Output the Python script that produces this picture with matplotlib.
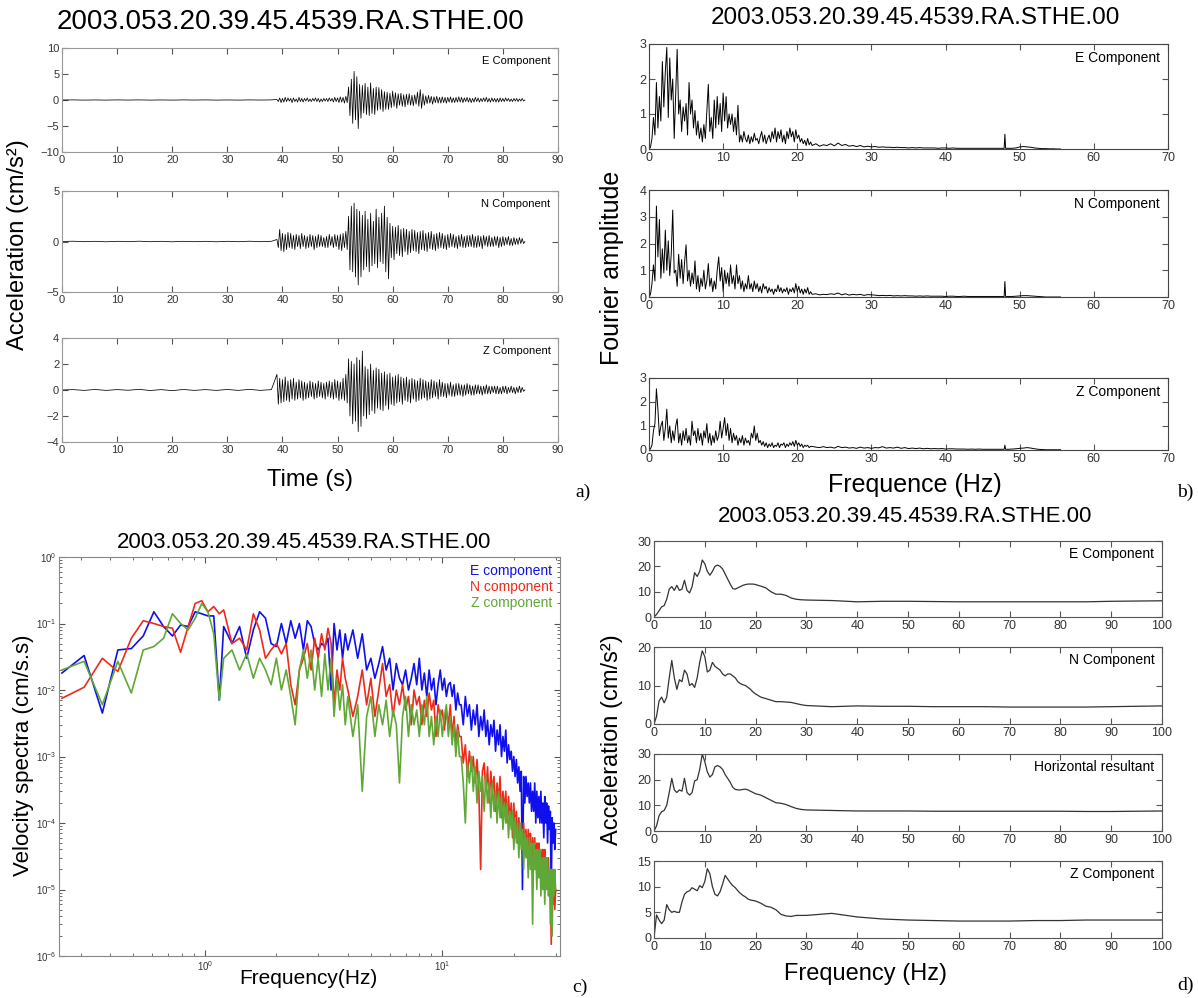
import numpy as np
import matplotlib
matplotlib.use('Agg')
import matplotlib.pyplot as plt

plt.rcParams['font.family'] = ['Liberation Sans', 'DejaVu Sans']

TITLE = '2003.053.20.39.45.4539.RA.STHE.00'

# ---------------- a) accelerograms (cm/s^2) ----------------
t_pre = np.arange(0, 39, 2)
e_pre = [0, 0.02, -0.02, 0.01, -0.02, 0.02, -0.01, 0.02, -0.02, 0.01,
         -0.02, 0.02, -0.01, 0.02, -0.02, 0.01, -0.02, 0.02, -0.01, 0.02]
n_pre = [0, 0.03, -0.02, 0.02, -0.03, 0.02, -0.02, 0.03, -0.02, 0.02,
         -0.03, 0.02, -0.02, 0.02, -0.03, 0.02, -0.02, 0.03, -0.02, 0.02]
z_pre = [0, 0.03, -0.03, 0.04, -0.03, 0.03, -0.02, 0.05, -0.04, 0.03,
         -0.05, 0.04, -0.03, 0.03, -0.03, 0.04, -0.03, 0.05, -0.03, 0.03]
# 39 s .. 84 s, every 0.25 s
e_evt = [0.1,-0.3,0.4,-0.5,0.3,-0.4,0.5,-0.3,0.4,-0.2,0.3,-0.5,0.4,-0.3,0.2,-0.4,0.5,-0.3,0.3,-0.4,
         0.3,-0.2,0.4,-0.3,0.2,-0.3,0.3,-0.2,0.4,-0.3,0.3,-0.4,0.2,-0.3,0.3,-0.2,0.3,-0.3,0.4,-0.2,
         0.3,-0.4,0.5,-0.3,0.4,-0.5,0.6,-0.4,0.5,-0.6,0.7,-0.5,2.5,-3.0,4.0,-4.5,5.5,-3.8,4.5,-5.5,
         3.0,-3.5,2.8,-2.5,3.2,-2.8,2.5,-3.0,3.3,-2.6,2.2,-2.8,2.5,-2.0,2.4,-1.8,2.0,-2.2,1.6,-1.8,
         1.5,-1.8,1.3,-1.5,1.7,-1.2,1.4,-1.6,1.2,-1.0,1.3,-1.2,1.0,-1.3,1.1,-0.9,1.2,-1.0,0.9,-1.1,
         1.0,-0.8,1.5,-1.2,2.0,-1.6,1.2,-1.0,0.8,-0.7,0.9,-0.6,0.7,-0.8,0.6,-0.5,0.7,-0.6,0.5,-0.6,
         0.6,-0.5,0.5,-0.6,0.5,-0.4,0.6,-0.5,0.4,-0.5,0.5,-0.4,0.6,-0.4,0.5,-0.5,0.4,-0.3,0.5,-0.4,
         0.4,-0.5,0.3,-0.4,0.5,-0.3,0.4,-0.4,0.3,-0.3,0.4,-0.3,0.5,-0.4,0.3,-0.4,0.4,-0.3,0.3,-0.4,
         0.3,-0.4,0.4,-0.3,0.3,-0.3,0.4,-0.2,0.3,-0.3,0.2,-0.3,0.3,-0.2,0.3,-0.3,0.2,-0.2,0.3,-0.2,
         0.0]
n_evt = [0.2,-0.6,1.2,-0.9,0.8,-1.0,0.7,-0.8,0.9,-0.6,0.8,-0.7,0.6,-0.8,0.7,-0.5,0.6,-0.7,0.8,-0.5,
         0.6,-0.7,0.5,-0.6,0.7,-0.5,0.6,-0.8,0.5,-0.6,0.7,-0.5,0.6,-0.5,0.4,-0.6,0.5,-0.6,0.7,-0.4,
         0.5,-0.6,0.7,-0.5,0.6,-0.8,0.7,-0.9,0.8,-0.6,1.0,-0.8,2.5,-2.8,3.5,-3.0,3.8,-3.5,3.2,-4.3,
         3.0,-3.5,2.6,-2.8,3.0,-2.5,2.2,-3.0,2.8,-2.4,2.0,-2.2,3.2,-2.6,2.4,-2.0,2.8,-2.2,3.5,-3.0,
         2.4,-3.7,1.8,-1.6,1.5,-1.8,1.4,-1.2,1.6,-1.4,1.2,-1.5,1.3,-1.0,1.2,-1.3,1.0,-1.1,1.2,-0.9,
         1.1,-1.0,0.9,-1.2,1.0,-0.8,1.1,-0.9,0.8,-1.0,0.9,-0.7,1.0,-0.8,0.7,-0.9,0.8,-0.7,0.9,-0.6,
         0.8,-0.7,0.6,-0.8,0.7,-0.6,0.8,-0.5,0.7,-0.6,0.5,-0.7,0.6,-0.5,0.7,-0.6,0.5,-0.6,0.6,-0.5,
         0.6,-0.5,0.7,-0.6,0.5,-0.6,0.6,-0.5,0.5,-0.7,0.6,-0.4,0.5,-0.5,0.6,-0.5,0.4,-0.5,0.5,-0.4,
         0.5,-0.6,0.4,-0.5,0.5,-0.4,0.4,-0.3,0.5,-0.4,0.3,-0.4,0.4,-0.3,0.3,-0.3,0.4,-0.2,0.3,-0.2,
         0.0]
z_evt = [1.2,-1.1,0.9,-1.0,0.8,-0.9,1.0,-0.8,0.7,-0.9,0.8,-0.7,0.9,-0.8,0.6,-0.7,0.8,-0.6,0.7,-0.8,
         0.6,-0.7,0.5,-0.6,0.7,-0.5,0.6,-0.7,0.5,-0.6,0.7,-0.5,0.6,-0.6,0.5,-0.7,0.6,-0.5,0.7,-0.6,
         0.6,-0.7,0.8,-0.6,0.7,-0.8,0.6,-0.7,0.9,-0.8,1.2,-1.0,2.4,-2.0,2.2,-2.6,2.0,-2.4,2.5,-3.2,
         2.3,-2.8,3.0,-2.0,1.8,-2.2,1.6,-1.9,2.0,-1.6,1.5,-1.8,1.7,-1.4,1.6,-1.5,1.3,-1.6,1.4,-1.2,
         1.2,-1.5,1.3,-1.1,1.0,-1.2,1.1,-1.0,1.2,-0.9,1.0,-1.1,0.9,-0.8,1.0,-0.9,0.8,-1.0,0.9,-0.7,
         0.8,-0.9,0.7,-0.8,0.9,-0.7,0.8,-0.6,0.7,-0.8,0.6,-0.7,0.8,-0.6,0.7,-0.5,0.6,-0.7,0.8,-0.5,
         0.6,-0.5,0.5,-0.6,0.5,-0.4,0.6,-0.5,0.4,-0.5,0.5,-0.4,0.5,-0.4,0.4,-0.5,0.4,-0.4,0.5,-0.3,
         0.4,-0.4,0.3,-0.4,0.4,-0.3,0.4,-0.3,0.3,-0.4,0.3,-0.3,0.4,-0.3,0.3,-0.3,0.3,-0.2,0.3,-0.3,
         0.3,-0.3,0.2,-0.3,0.3,-0.2,0.3,-0.3,0.2,-0.2,0.3,-0.2,0.2,-0.3,0.2,-0.2,0.3,-0.2,0.2,-0.1,
         0.0]
t_evt = 39 + 0.25 * np.arange(len(e_evt))

# ---------------- b) Fourier amplitude ----------------
fb_lo = np.arange(0, 21.9, 0.2)
fb_hi = np.r_[np.arange(22, 47.6, 0.5), 47.9, 48.0, 48.1, np.arange(48.5, 55.6, 0.5)]
eb_lo = [0.0,0.05,0.3,0.9,0.4,1.9,0.6,1.5,0.8,2.5, 1.2,2.2,2.9,0.9,2.6,1.4,2.0,0.3,1.6,2.85,
         1.0,1.4,0.5,1.2,0.8,1.3,0.4,1.9,1.0,1.4, 0.6,1.1,0.4,0.8,0.3,0.6,0.2,0.7,0.3,1.1,
         1.85,0.5,0.9,0.3,1.4,0.6,1.5,0.7,1.3,0.5, 1.6,0.8,1.5,0.6,1.0,0.7,1.0,0.5,0.9,0.4,
         1.25,0.2,0.4,0.2,0.5,0.3,0.2,0.4,0.15,0.35, 0.2,0.45,0.25,0.3,0.15,0.35,0.5,0.2,0.4,0.15,
         0.3,0.4,0.2,0.5,0.3,0.6,0.2,0.5,0.3,0.55, 0.2,0.4,0.15,0.5,0.3,0.6,0.35,0.5,0.2,0.55,
         0.3,0.4,0.2,0.3,0.15,0.25,0.1,0.3,0.12,0.2]
eb_hi = [0.1,0.15,0.08,0.12,0.1,0.15,0.09,0.17,0.1,0.13, 0.08,0.1,0.07,0.1,0.06,0.08,0.06,0.07,0.05,0.06,
         0.05,0.05,0.04,0.05,0.04,0.04,0.03,0.04,0.03,0.04, 0.03,0.03,0.03,0.03,0.02,0.03,0.03,0.02,0.03,0.02,
         0.02,0.02,0.02,0.02,0.02,0.02,0.02,0.02,0.02,0.02, 0.02,0.02,0.02,0.42,0.02,
         0.02,0.02,0.03,0.06,0.07,0.06,0.05,0.03,0.02,0.01,0.01,0.005,0.005,0.0,0.0]
nb_lo = [0.0,0.1,0.5,1.2,0.6,3.4,1.5,2.9,0.7,1.8, 0.9,2.5,1.0,2.1,0.8,1.6,3.25,0.9,1.0,0.4,
         1.6,0.7,1.4,0.5,1.3,1.95,0.6,1.0,0.4,0.9, 0.5,1.35,0.3,0.8,0.2,0.7,0.4,1.0,0.3,0.6,
         1.25,0.4,0.7,0.2,0.6,0.3,1.0,1.5,0.6,1.1, 0.2,1.0,0.5,0.9,0.4,1.2,0.5,0.8,0.3,1.2,
         0.5,0.8,0.3,0.6,0.2,0.5,0.3,0.8,0.3,0.5, 0.2,0.6,0.3,0.5,0.2,0.4,0.15,0.5,0.3,0.4,
         0.15,0.35,0.2,0.3,0.1,0.3,0.2,0.45,0.2,0.35, 0.15,0.3,0.2,0.35,0.1,0.3,0.2,0.35,0.15,0.5,
         0.2,0.4,0.15,0.3,0.1,0.3,0.15,0.35,0.1,0.2]
nb_hi = [0.1,0.12,0.08,0.1,0.09,0.12,0.1,0.15,0.08,0.12, 0.07,0.1,0.08,0.1,0.06,0.09,0.08,0.07,0.05,0.06,
         0.05,0.06,0.04,0.05,0.04,0.05,0.04,0.04,0.03,0.04, 0.03,0.04,0.03,0.03,0.03,0.03,0.02,0.03,0.03,0.02,
         0.02,0.03,0.02,0.02,0.02,0.02,0.02,0.02,0.02,0.02, 0.02,0.02,0.02,0.58,0.02,
         0.02,0.02,0.03,0.04,0.05,0.05,0.04,0.03,0.02,0.01,0.0,0.0,0.0,0.0,0.0]
zb_lo = [0.0,0.05,0.2,0.8,1.1,2.55,1.7,0.6,1.0,1.2, 0.4,0.9,1.7,0.5,1.0,0.3,0.8,0.4,1.0,1.3,
         0.3,0.7,0.2,0.8,0.4,0.9,0.3,0.6,0.2,1.2, 0.6,0.8,0.3,0.9,0.4,0.7,0.2,0.8,0.5,1.1,
         0.3,0.7,0.2,0.6,0.3,0.8,0.4,0.6,1.2,0.5, 0.9,1.35,0.6,1.1,0.4,0.9,0.3,0.7,0.4,0.6,
         0.2,0.5,0.3,0.6,0.2,0.5,0.3,0.4,0.2,0.7, 0.5,1.0,0.4,0.7,0.3,0.4,0.2,0.35,0.15,0.3,
         0.1,0.25,0.15,0.3,0.1,0.2,0.15,0.3,0.1,0.25, 0.2,0.3,0.1,0.25,0.15,0.3,0.2,0.35,0.15,0.4,
         0.2,0.3,0.15,0.25,0.1,0.2,0.15,0.2,0.1,0.15]
zb_hi = [0.15,0.12,0.1,0.14,0.1,0.12,0.08,0.15,0.1,0.12, 0.08,0.1,0.07,0.12,0.08,0.1,0.07,0.1,0.09,0.14,
         0.08,0.1,0.08,0.12,0.07,0.1,0.06,0.08,0.06,0.08, 0.05,0.07,0.05,0.06,0.05,0.06,0.04,0.05,0.05,0.04,
         0.04,0.04,0.03,0.04,0.03,0.04,0.03,0.03,0.03,0.03, 0.03,0.03,0.03,0.2,0.03,
         0.03,0.04,0.05,0.07,0.08,0.1,0.08,0.05,0.03,0.02,0.01,0.01,0.01,0.01,0.01]

# ---------------- c) velocity spectra (cm/s.s) ----------------
f_c = np.r_[np.arange(0.25, 1.18, 0.06), np.arange(1.2, 3.95, 0.1),
            np.arange(4.0, 11.9, 0.2), np.arange(12.0, 30.1, 0.25)]
vel_e = [0.018,0.033,0.0045,0.04,0.042,0.065,0.15,0.09,0.065,0.095,0.09,0.15,0.14,0.13,0.13,0.007,
         0.09,0.05,0.09,0.03,0.08,0.15,0.12,0.05,0.045,0.1,0.05,0.11,0.06,0.1,0.04,0.11,0.09,0.05,
         0.04,0.05,0.045,0.06,0.01,0.1,0.04,0.08,0.03,0.07,
         0.04,0.08,0.03,0.07,0.02,0.03,0.015,0.025,0.045,0.02, 0.03,0.01,0.025,0.015,0.012,0.02,0.01,0.015,0.025,0.012,
         0.03,0.01,0.018,0.008,0.02,0.01,0.015,0.006,0.012,0.02, 0.01,0.015,0.008,0.012,0.013,0.008,0.012,0.005,0.009,0.006,
         0.006,0.003,0.008,0.004,0.006,0.0025,0.005,0.003,0.006,0.002, 0.004,0.0025,0.005,0.002,0.0035,0.0015,0.003,0.002,0.0035,0.0012,
         0.0025,0.0015,0.003,0.001,0.002,0.0012,0.0025,0.0008,0.0015,0.0009, 0.0012,0.0006,0.001,0.0005,0.0009,0.0004,0.0007,0.0003,0.0006,0.00001,
         0.0005,0.0002,0.0005,0.00025,0.0004,0.0002,0.0004,0.00015,0.0003,0.00015, 0.0004,0.0001,0.0003,0.00012,0.00025,0.0001,0.0003,0.0001,0.0002,0.00006,
         0.00025,0.0001,0.0002,0.00005,0.00018,0.00008,0.00015,0.000008,0.00012,0.00005, 0.0001,0.00004,0.00008]
vel_n = [0.0075,0.011,0.03,0.019,0.06,0.11,0.1,0.09,0.085,0.037,0.09,0.2,0.22,0.15,0.18,0.14,
         0.16,0.05,0.06,0.04,0.14,0.08,0.03,0.04,0.05,0.035,0.05,0.012,0.006,0.02,0.03,0.05,0.02,0.06,
         0.03,0.07,0.04,0.085,0.05,0.006,0.02,0.01,0.03,0.015,
         0.01,0.004,0.008,0.02,0.006,0.015,0.004,0.01,0.025,0.008, 0.012,0.004,0.01,0.006,0.012,0.005,0.008,0.003,0.01,0.006,
         0.008,0.003,0.007,0.004,0.009,0.005,0.007,0.002,0.006,0.004, 0.005,0.0025,0.005,0.003,0.006,0.002,0.004,0.0015,0.003,0.002,
         0.002,0.0008,0.0015,0.0005,0.0012,0.0006,0.001,0.0004,0.0009,0.0003, 0.00002,0.0006,0.0008,0.0003,0.0007,0.0002,0.0006,0.0003,0.0005,0.00015,
         0.0004,0.0002,0.0005,0.00012,0.0003,0.00015,0.0003,0.0001,0.00025,0.0001, 0.0002,0.00006,0.0002,0.00008,0.00015,0.00005,0.00012,0.00006,0.0001,0.00004,
         0.0001,0.00004,0.00008,0.00003,0.00008,0.00004,0.00007,0.00002,0.00006,0.00003, 0.00006,0.00002,0.00005,0.00003,0.00005,0.000015,0.00004,0.00002,0.00004,0.00001,
         0.00004,0.000015,0.00003,0.00001,0.00003,0.000008,0.00002,0.0000015,0.000015,0.000006, 0.00001,0.000005,0.00001]
vel_z = [0.02,0.027,0.006,0.027,0.009,0.04,0.045,0.06,0.14,0.1,0.08,0.12,0.2,0.15,0.07,0.007,
         0.03,0.04,0.02,0.035,0.015,0.03,0.02,0.012,0.03,0.01,0.02,0.008,0.003,0.02,0.04,0.015,0.04,0.01,
         0.03,0.008,0.035,0.01,0.03,0.004,0.015,0.005,0.012,0.003,
         0.008,0.002,0.006,0.0003,0.004,0.008,0.002,0.006,0.003,0.007, 0.002,0.005,0.003,0.0004,0.004,0.008,0.002,0.006,0.003,0.005,
         0.002,0.006,0.003,0.008,0.002,0.004,0.0015,0.004,0.002,0.005, 0.002,0.004,0.006,0.002,0.004,0.0015,0.003,0.001,0.0025,0.001,
         0.001,0.0004,0.0001,0.0008,0.0004,0.001,0.0003,0.0007,0.0002,0.0006, 0.0003,0.0005,0.00015,0.0005,0.0002,0.0004,0.00012,0.0004,0.00015,0.0003,
         0.0001,0.0003,0.00012,0.00025,0.00008,0.0002,0.0001,0.0002,0.00006,0.00015, 0.00008,0.00015,0.00004,0.00012,0.00005,0.0001,0.00003,0.0001,0.00004,0.00008,
         0.00002,0.00007,0.00003,0.00006,0.000015,0.00006,0.00002,0.00005,0.000003,0.00005, 0.00002,0.00004,0.00001,0.00004,0.000015,0.00004,0.000008,0.00003,0.00001,0.00003,
         0.000006,0.00003,0.00001,0.00003,0.000008,0.00002,0.000003,0.00002,0.000002,0.00002, 0.000008,0.00002,0.00001]

# ---------------- d) response spectra (cm/s^2) ----------------
f_d = np.r_[np.arange(0, 20.1, 0.5), np.arange(21, 31, 1), np.arange(35, 101, 5)]
acc_e = [0,1,2.5,4,4.5,7,11,12,10.5,12.5, 10.5,11,14.5,10.5,9.5,12,17.5,16,18,22.5,
         21,18,16.5,18,20,20.5,20,19,17,15, 13,11.2,11,11.5,12,12.5,12.8,13,13,13, 12.8,
         12.2,11.5,10,9,9,8.5,7.5,7,6.8,6.7,
         6.5,6,6.2,6.2,6.1,6,6,6,6,6,6,6.2,6.3,6.4]
acc_n = [0,2,6,7,5.5,7,12,16.5,12,9, 11.5,11,14,13,10,10.5,9.5,12,16,19,
         17.5,13.5,14,16,15,14.5,14,13,12.5,13, 13,12.5,12,11,10.5,10.2,10,9.5,9,8.3, 7.8,
         7,6.6,6.2,5.8,5.8,5.7,5.6,5.3,5.0,4.8,
         4.5,4.7,4.6,4.6,4.5,4.5,4.5,4.4,4.4,4.4,4.4,4.5,4.6,4.7]
acc_h = [0,2,6,7.5,8,10,15,20.5,16,15, 16,15.5,20.5,15,14,15,19.5,20,24,30,
         27,23,21,22,25,25.5,25,24,22,20.5, 19,17,16.2,16,16,16.2,16.3,16,15.5,15, 14.5,
         14,13,12,11,10.8,10.3,9.5,8.8,8.4,8.2,
         8.0,7.8,7.8,7.8,7.7,7.7,7.7,7.7,7.7,7.7,7.6,7.6,7.7,7.8]
acc_z = [0,4.5,3.5,2.8,3.5,6.5,5.5,5,5.2,5, 5,7,8.5,9,9.2,9.8,9.5,9.2,10.2,9.8,
         11,13.5,12.5,10,8.5,8.2,9,10.5,12.2,11.5, 10.8,10.2,9.8,9.2,8.7,8.3,8,7.6,7.4,7.3, 7.2,
         6.8,6.2,6.0,5.5,4.6,4.3,4.2,4.4,4.4,4.4,
         4.8,4.1,3.7,3.5,3.4,3.3,3.3,3.3,3.4,3.4,3.5,3.5,3.5,3.5]

W, H = 1198, 998
fig = plt.figure(figsize=(W / 100, H / 100), dpi=100)


def box(l, t, r, b):
    return fig.add_axes([l / W, 1 - b / H, (r - l) / W, (b - t) / H])


def matlab_look(ax, fs, spine='#666666'):
    ax.tick_params(which='both', direction='in', top=True, right=True,
                   labelsize=fs, labelcolor='#333333', color='#555555', pad=2)
    ax.tick_params(which='major', length=4)
    ax.tick_params(which='minor', length=2)
    for s in ax.spines.values():
        s.set_color(spine)
        s.set_linewidth(0.8)


def ftext(x, y, s, **kw):
    fig.text(x / W, 1 - y / H, s, ha='center', va='center', **kw)


def corner_label(ax, s, top, bot, dy, fs):
    # label placed dy pixels below the top edge, right aligned
    ax.text(0.985, 1 - dy / (bot - top), s, transform=ax.transAxes,
            ha='right', va='center', fontsize=fs)


# ---- panel a
a_traces = [(e_pre, e_evt, 10, 5, 'E Component', (48, 152)),
            (n_pre, n_evt, 5, 5, 'N Component', (191, 292)),
            (z_pre, z_evt, 4, 2, 'Z Component', (338, 442))]
for pre, evt, lim, step, lab, (top, bot) in a_traces:
    ax = box(62, top, 558, bot)
    ax.plot(np.r_[t_pre, t_evt], np.r_[pre, evt], color='black', lw=0.55)
    ax.set_xlim(0, 90)
    ax.set_ylim(-lim, lim)
    ax.set_xticks(np.arange(0, 91, 10))
    ax.set_yticks(np.arange(-lim, lim + 1, step))
    matlab_look(ax, 8, '#999999')
    corner_label(ax, lab, top, bot, 13, 8)
ftext(290, 22, TITLE, fontsize=20)
ftext(18, 245, 'Acceleration (cm/s²)', fontsize=17, rotation=90)
ftext(310, 480, 'Time (s)', fontsize=17)
ftext(583, 492, 'a)', fontsize=14, family='Liberation Serif')

# ---- panel b
b_traces = [(eb_lo, eb_hi, 3, 'E Component', (44, 149)),
            (nb_lo, nb_hi, 4, 'N Component', (190, 297)),
            (zb_lo, zb_hi, 3, 'Z Component', (378, 450))]
for lo, hi, lim, lab, (top, bot) in b_traces:
    ax = box(649, top, 1168, bot)
    ax.plot(np.r_[fb_lo, fb_hi], np.r_[lo, hi], color='black', lw=0.7)
    ax.set_xlim(0, 70)
    ax.set_ylim(0, lim)
    ax.set_xticks(np.arange(0, 71, 10))
    ax.set_yticks(np.arange(0, lim + 1, 1))
    matlab_look(ax, 9, '#444444')
    corner_label(ax, lab, top, bot, 14, 10)
ftext(915, 18, TITLE, fontsize=17.5)
ftext(612, 268, 'Fourier amplitude', fontsize=18, rotation=90)
ftext(915, 485, 'Frequence (Hz)', fontsize=18)
ftext(1185, 492, 'b)', fontsize=14, family='Liberation Serif')

# ---- panel c
ax = box(59, 557, 560, 956)
for vals, col in [(vel_e, '#1010ee'), (vel_n, '#ee2a1a'), (vel_z, '#60a835')]:
    ax.plot(f_c, vals, color=col, lw=1.2)
ax.set_xscale('log')
ax.set_yscale('log')
ax.set_xlim(0.243, 31.3)
ax.set_ylim(1e-6, 1)
ax.set_xticks([1, 10])
ax.set_yticks([1e-6, 1e-5, 1e-4, 1e-3, 1e-2, 1e-1, 1])
matlab_look(ax, 7, '#888888')
for i, (lab, col) in enumerate([('E component', '#1010ee'), ('N component', '#ee2a1a'),
                                ('Z component', '#60a835')]):
    ax.text(0.985, 0.965 - i * 0.04, lab, transform=ax.transAxes, ha='right', va='center',
            fontsize=10, color=col)
ftext(304, 542, TITLE, fontsize=16)
ftext(24, 755, 'Velocity spectra (cm/s.s)', fontsize=16, rotation=90)
ftext(308, 978, 'Frequency(Hz)', fontsize=15)
ftext(580, 987, 'c)', fontsize=14, family='Liberation Serif')

# ---- panel d
d_traces = [(acc_e, 30, 10, 'E Component', (541, 617)),
            (acc_n, 20, 10, 'N Component', (647, 724)),
            (acc_h, 30, 10, 'Horizontal resultant', (754, 831)),
            (acc_z, 15, 5, 'Z Component', (861, 938))]
for vals, lim, step, lab, (top, bot) in d_traces:
    ax = box(654, top, 1162, bot)
    ax.plot(f_d, vals, color='#333333', lw=0.9)
    ax.set_xlim(0, 100)
    ax.set_ylim(0, lim)
    ax.set_xticks(np.arange(0, 101, 10))
    ax.set_yticks(np.arange(0, lim + 1, step))
    matlab_look(ax, 9, '#555555')
    corner_label(ax, lab, top, bot, 13, 10)
ftext(905, 517, TITLE, fontsize=16)
ftext(612, 740, 'Acceleration (cm/s²)', fontsize=17, rotation=90)
ftext(865, 974, 'Frequency (Hz)', fontsize=17)
ftext(1185, 985, 'd)', fontsize=14, family='Liberation Serif')

fig.savefig('out.png', dpi=100)
